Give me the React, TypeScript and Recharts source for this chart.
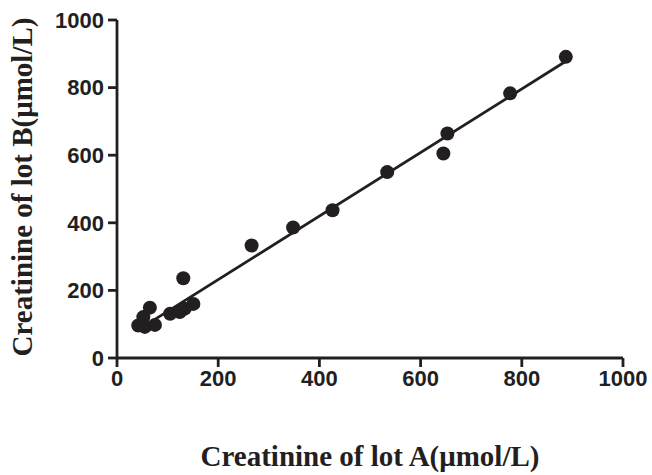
import { ScatterChart, Scatter, XAxis, YAxis, Label } from 'recharts';

// lot A vs lot B creatinine
const lotA = [42, 52, 55, 65, 75, 105, 124, 131, 134, 151, 266, 348, 426, 534, 645, 653, 777, 887];
const lotB = [96, 121, 92, 149, 98, 131, 136, 236, 146, 160, 333, 386, 437, 550, 605, 664, 783, 891];

// regression line end points
const fitX = [45, 887];
const fitY = [86, 878];

const xTicks = [0, 200, 400, 600, 800, 1000];
const yTicks = [0, 200, 400, 600, 800, 1000];

const points = lotA.map((x, i) => ({ x, y: lotB[i] }));
const fitData = fitX.map((x, i) => ({ x, y: fitY[i] }));

const INK = '#231f20';
const titleStyle = { fontFamily: '"Liberation Serif", "Times New Roman", serif', fontWeight: 700, fontSize: 29 };
const tickStyle = { fill: INK, fontSize: 22, fontWeight: 700, fontFamily: '"Liberation Sans", Arial, sans-serif' };

const YTitle = ({ viewBox }: any) => {
  const cx = 22;
  const cy = viewBox.y + viewBox.height / 2 - 2;
  return (
    <text
      x={cx}
      y={cy}
      transform={`rotate(-90, ${cx}, ${cy})`}
      textAnchor="middle"
      dominantBaseline="central"
      fill={INK}
      style={titleStyle}
    >
      Creatinine of lot B(μmol/L)
    </text>
  );
};

export default function App() {
  return (
    <div style={{ position: 'absolute', left: 0, top: 0, width: 652, height: 475, background: '#fff' }}>
      <ScatterChart width={652} height={475} margin={{ top: 20, right: 29, bottom: 0, left: 0 }}>
        <XAxis
          type="number"
          dataKey="x"
          domain={[0, 1000]}
          ticks={xTicks}
          allowDataOverflow
          stroke={INK}
          strokeWidth={2.8}
          tickSize={9}
          tickMargin={3}
          height={117}
          tick={tickStyle}
        >
          <Label value="Creatinine of lot A(μmol/L)" position="insideBottom" offset={9} fill={INK} style={titleStyle} />
        </XAxis>
        <YAxis
          type="number"
          dataKey="y"
          domain={[0, 1000]}
          ticks={yTicks}
          allowDataOverflow
          stroke={INK}
          strokeWidth={2.8}
          tickSize={9}
          tickMargin={4}
          width={117}
          tick={tickStyle}
        >
          <Label content={<YTitle />} />
        </YAxis>
        <Scatter
          data={fitData}
          line={{ stroke: INK, strokeWidth: 2.8 }}
          shape={() => null}
          legendType="none"
          isAnimationActive={false}
        />
        <Scatter
          data={points}
          fill={INK}
          shape={(p: any) => <circle cx={p.cx} cy={p.cy} r={7} fill={INK} />}
          isAnimationActive={false}
        />
      </ScatterChart>
    </div>
  );
}
